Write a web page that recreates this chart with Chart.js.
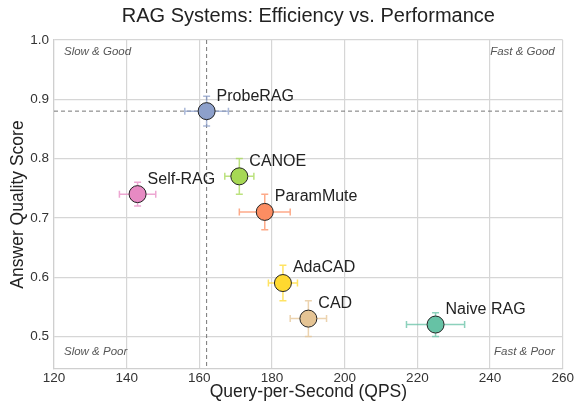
<!DOCTYPE html>
<html>
<head>
<meta charset="utf-8">
<script src="https://cdn.jsdelivr.net/npm/chart.js@4"></script>
<style>
  html, body { margin: 0; padding: 0; background: #fff; }
  canvas { display: block; }
</style>
</head>
<body>
<canvas id="cvs_rag" width="575" height="405"></canvas>
<script>
// dados
const sistemas = ["Naive RAG", "ParamMute", "ProbeRAG", "Self-RAG", "CANOE", "AdaCAD", "CAD"];
const qps      = [225, 178, 162, 143, 171, 183, 190];
const qualidade = [0.52, 0.71, 0.88, 0.74, 0.77, 0.59, 0.53];
const erroQps  = [8, 7, 6, 5, 4, 4, 5];
const erroQual = [0.02, 0.03, 0.025, 0.02, 0.03, 0.03, 0.03];
const cores    = ["#66c2a5", "#fc8d62", "#8da0cb", "#e78ac3", "#a6d854", "#ffd92f", "#e5c494"];

const ticksX = [120, 140, 160, 180, 200, 220, 240, 260];
const ticksY = [0.5, 0.6, 0.7, 0.8, 0.9, 1.0];

// linhas de referência (ProbeRAG)
const refX = 162;
const refY = 0.88;

const titulo = "RAG Systems: Efficiency vs. Performance";
const quadrantes = ["Slow & Good", "Fast & Good", "Slow & Poor", "Fast & Poor"];

const FONTE = "'Liberation Sans', Arial, sans-serif";

function alfa(hex, a) {
    const n = parseInt(hex.slice(1), 16);
    return `rgba(${(n >> 16) & 255}, ${(n >> 8) & 255}, ${n & 255}, ${a})`;
}

// Plugin: título centralizado sobre a área do gráfico
const tituloPlugin = {
    id: "tituloCentro",
    afterDraw(chart) {
        const { ctx, chartArea: a } = chart;
        ctx.save();
        ctx.font = `20px ${FONTE}`;
        ctx.fillStyle = "#222";
        ctx.textAlign = "center";
        ctx.textBaseline = "middle";
        ctx.fillText(titulo, (a.left + a.right) / 2, 16);
        ctx.restore();
    }
};

// Plugin: linhas de referência, quadrantes e barras de erro (atrás dos pontos)
const fundoPlugin = {
    id: "fundo",
    beforeDatasetsDraw(chart) {
        const { ctx, chartArea: a, scales: { x, y } } = chart;
        ctx.save();
        ctx.strokeStyle = "#777";
        ctx.lineWidth = 1;
        ctx.setLineDash([4, 3]);
        const px = x.getPixelForValue(refX);
        const py = y.getPixelForValue(refY);
        ctx.beginPath();
        ctx.moveTo(px, a.top); ctx.lineTo(px, a.bottom);
        ctx.moveTo(a.left, py); ctx.lineTo(a.right, py);
        ctx.stroke();
        ctx.setLineDash([]);

        ctx.font = `italic 11.5px ${FONTE}`;
        ctx.fillStyle = "#555";
        ctx.textBaseline = "middle";
        ctx.textAlign = "left";
        ctx.fillText(quadrantes[0], a.left + 10, a.top + 12);
        ctx.fillText(quadrantes[2], a.left + 10, a.bottom - 17);
        ctx.textAlign = "right";
        ctx.fillText(quadrantes[1], a.right - 8, a.top + 12);
        ctx.fillText(quadrantes[3], a.right - 8, a.bottom - 17);

        // barras de erro
        ctx.lineWidth = 1.5;
        for (let i = 0; i < sistemas.length; i++) {
            const cx = x.getPixelForValue(qps[i]);
            const cy = y.getPixelForValue(qualidade[i]);
            const x0 = x.getPixelForValue(qps[i] - erroQps[i]);
            const x1 = x.getPixelForValue(qps[i] + erroQps[i]);
            const y0 = y.getPixelForValue(qualidade[i] - erroQual[i]);
            const y1 = y.getPixelForValue(qualidade[i] + erroQual[i]);
            const cap = 3.5;
            ctx.strokeStyle = alfa(cores[i], 0.75);
            ctx.beginPath();
            ctx.moveTo(x0, cy); ctx.lineTo(x1, cy);
            ctx.moveTo(x0, cy - cap); ctx.lineTo(x0, cy + cap);
            ctx.moveTo(x1, cy - cap); ctx.lineTo(x1, cy + cap);
            ctx.moveTo(cx, y0); ctx.lineTo(cx, y1);
            ctx.moveTo(cx - cap, y0); ctx.lineTo(cx + cap, y0);
            ctx.moveTo(cx - cap, y1); ctx.lineTo(cx + cap, y1);
            ctx.stroke();
        }
        ctx.restore();
    }
};

// Plugin: nomes dos sistemas ao lado dos pontos
const rotulosPlugin = {
    id: "rotulos",
    afterDatasetsDraw(chart) {
        const { ctx, scales: { x, y } } = chart;
        ctx.save();
        ctx.font = `16px ${FONTE}`;
        ctx.fillStyle = "#222";
        ctx.textAlign = "left";
        ctx.textBaseline = "middle";
        for (let i = 0; i < sistemas.length; i++) {
            ctx.fillText(sistemas[i], x.getPixelForValue(qps[i]) + 10, y.getPixelForValue(qualidade[i]) - 15);
        }
        ctx.restore();
    }
};

new Chart(document.getElementById("cvs_rag"), {
    type: "scatter",
    data: {
        datasets: [{
            data: qps.map((v, i) => ({ x: v, y: qualidade[i] })),
            backgroundColor: cores,
            borderColor: "#222",
            borderWidth: 1,
            pointRadius: 8.5,
            pointHoverRadius: 8.5
        }]
    },
    options: {
        responsive: false,
        animation: false,
        devicePixelRatio: 1,
        layout: { padding: { left: 8, right: 12, top: 40, bottom: 2 } },
        plugins: {
            legend: { display: false },
            tooltip: { enabled: false },
            title: { display: false }
        },
        scales: {
            x: {
                type: "linear",
                min: 120, max: 260,
                afterBuildTicks: s => { s.ticks = ticksX.map(v => ({ value: v })); },
                afterFit: s => { s.height = 34; },
                ticks: { color: "#333", font: { family: FONTE, size: 13.5 }, padding: 1 },
                grid: { color: "#d6d6d6", lineWidth: 1.2, drawTicks: false },
                border: { color: "#cfcfcf", width: 1.2 },
                title: {
                    display: true, text: "Query-per-Second (QPS)", color: "#222",
                    font: { family: FONTE, size: 17.5 }, padding: { top: 0, bottom: 0 }
                }
            },
            y: {
                type: "linear",
                min: 0.445, max: 1.0,
                afterBuildTicks: s => { s.ticks = ticksY.map(v => ({ value: v })); },
                afterFit: s => { s.width = 46; },
                ticks: {
                    color: "#333", font: { family: FONTE, size: 13.5 }, padding: 5,
                    callback: v => v.toFixed(1)
                },
                grid: { color: "#d6d6d6", lineWidth: 1.2, drawTicks: false },
                border: { color: "#cfcfcf", width: 1.2 },
                title: {
                    display: true, text: "Answer Quality Score", color: "#222",
                    font: { family: FONTE, size: 17.5 }, padding: { top: 0, bottom: 2 }
                }
            }
        }
    },
    plugins: [fundoPlugin, rotulosPlugin, tituloPlugin]
});
</script>
</body>
</html>
